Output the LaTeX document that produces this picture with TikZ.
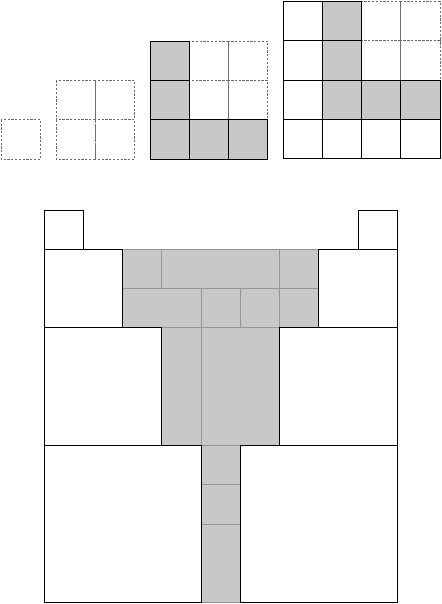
\documentclass[tikz,border=0pt]{standalone}
\definecolor{cellgray}{RGB}{200,200,200}
\definecolor{dashgray}{RGB}{110,110,110}
\definecolor{thingray}{RGB}{150,150,150}
\tikzset{
  dcell/.style={draw=dashgray, dashed, dash pattern=on 2.2pt off 1.6pt, line width=0.7pt},
  wcell/.style={draw=black, fill=white, line width=0.9pt},
  gcell/.style={draw=black, fill=cellgray, line width=0.9pt},
  gpart/.style={draw=thingray, fill=cellgray, line width=0.6pt},
  wblock/.style={draw=black, fill=white, line width=0.9pt, line join=miter},
}
\begin{document}
\begin{tikzpicture}[x=1pt,y=-1pt]
\useasboundingbox (0,0) rectangle (441,604);
% 1x1
\begin{scope}[shift={(1,119.75)}, x=39.25pt, y=-39.25pt]
  \draw[dcell] (0,0) rectangle (1,1);
\end{scope}
% 2x2
\begin{scope}[shift={(56,80.5)}, x=39.25pt, y=-39.25pt]
  \foreach \c/\r in {0/0,1/0,0/1,1/1}
    \draw[dcell] (\c,\r) rectangle ++(1,1);
\end{scope}
% 3x3
\begin{scope}[shift={(150,41.25)}, x=39.25pt, y=-39.25pt]
  \foreach \c/\r in {1/0,2/0,1/1,2/1}
    \draw[dcell] (\c,\r) rectangle ++(1,1);
  \foreach \c/\r in {0/0,0/1,0/2,1/2,2/2}
    \draw[gcell] (\c,\r) rectangle ++(1,1);
\end{scope}
% 4x4
\begin{scope}[shift={(283,1.5)}, x=39.25pt, y=-39.3pt]
  \foreach \c/\r in {2/0,3/0,2/1,3/1}
    \draw[dcell] (\c,\r) rectangle ++(1,1);
  \foreach \c/\r in {0/0,0/1,0/2,0/3,1/3,2/3,3/3}
    \draw[wcell] (\c,\r) rectangle ++(1,1);
  \foreach \c/\r in {1/0,1/1,1/2,2/2,3/2}
    \draw[gcell] (\c,\r) rectangle ++(1,1);
\end{scope}
% bottom figure
\begin{scope}[shift={(44,210)}, x=39.25pt, y=-39.25pt]
  % gray parts
  \draw[gpart] (2,1) rectangle (3,2);
  \draw[gpart] (3,1) rectangle (6,2);
  \draw[gpart] (6,1) rectangle (7,2);
  \draw[gpart] (2,2) rectangle (4,3);
  \draw[gpart] (4,2) rectangle (5,3);
  \draw[gpart] (5,2) rectangle (6,3);
  \draw[gpart] (6,2) rectangle (7,3);
  \draw[gpart] (3,3) rectangle (4,6);
  \draw[gpart] (4,3) rectangle (6,6);
  \draw[gpart] (4,6) rectangle (5,7);
  \draw[gpart] (4,7) rectangle (5,8);
  \draw[gpart] (4,8) rectangle (5,10);
  % white blocks
  \draw[wblock] (0,0) rectangle (1,1);
  \draw[wblock] (8,0) rectangle (9,1);
  \draw[wblock] (0,1) rectangle (2,3);
  \draw[wblock] (7,1) rectangle (9,3);
  \draw[wblock] (0,3) rectangle (3,6);
  \draw[wblock] (6,3) rectangle (9,6);
  \draw[wblock] (0,6) rectangle (4,10);
  \draw[wblock] (5,6) rectangle (9,10);
\end{scope}
\end{tikzpicture}
\end{document}
